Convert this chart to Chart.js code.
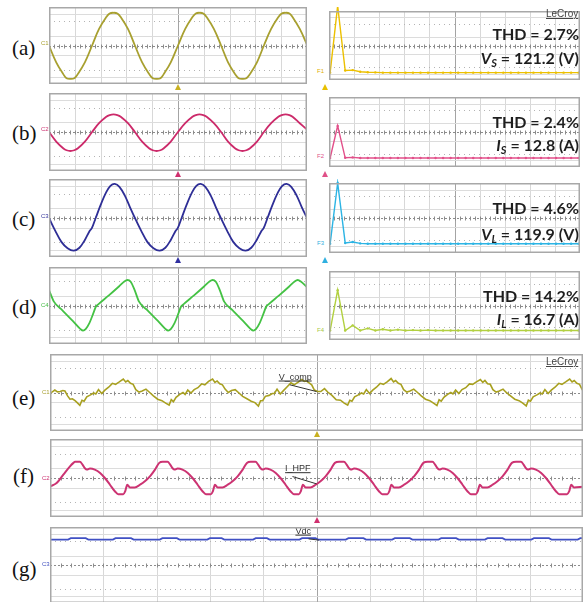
<!DOCTYPE html>
<html>
<head>
<meta charset="utf-8">
<script src="https://cdn.jsdelivr.net/npm/chart.js@4.4.1/dist/chart.umd.min.js"></script>
<style>
  body { margin: 0; background: #fff; }
  #page { position: relative; width: 584px; height: 602px; overflow: hidden; background: #fff; }
  .panel { position: absolute; }
  .panel canvas { display: block; }
  .tag { position: absolute; font-family: "Liberation Serif", serif; font-size: 21px; color: #111; line-height: 22px; }
  .thd { position: absolute; right: 5px; font-family: Lato, "Open Sans", sans-serif; font-weight: 700; font-size: 16px; color: #1e1e1e; line-height: 18px; text-align: right; white-space: nowrap; }
  .thd sub { font-size: 11px; vertical-align: -3px; }
  .brand { position: absolute; font-family: "Liberation Sans", Arial, sans-serif; font-size: 10px; color: #444; text-decoration: underline; }
  .ch { position: absolute; font-family: "Liberation Sans", Arial, sans-serif; font-size: 6px; line-height: 6px; }
  .trig { position: absolute; width: 0; height: 0; border-left: 3.5px solid transparent; border-right: 3.5px solid transparent; border-bottom: 6px solid #000; }
</style>
</head>
<body>
<div id="page">
  <div class="panel" style="left:49px;top:7px;width:258px;height:77px"><canvas id="scopeA"></canvas></div>
  <div class="panel" style="left:49px;top:93px;width:258px;height:78px"><canvas id="scopeB"></canvas></div>
  <div class="panel" style="left:49px;top:179px;width:258px;height:78px"><canvas id="scopeC"></canvas></div>
  <div class="panel" style="left:49px;top:267px;width:258px;height:77px"><canvas id="scopeD"></canvas></div>
  <div class="panel" style="left:325px;top:7px;width:259px;height:77px"><canvas id="fftA"></canvas></div>
  <div class="panel" style="left:325px;top:93px;width:259px;height:78px"><canvas id="fftB"></canvas></div>
  <div class="panel" style="left:325px;top:179px;width:259px;height:78px"><canvas id="fftC"></canvas></div>
  <div class="panel" style="left:325px;top:267px;width:259px;height:77px"><canvas id="fftD"></canvas></div>
  <div class="panel" style="left:50px;top:354px;width:533px;height:77px"><canvas id="scopeE"></canvas></div>
  <div class="panel" style="left:50px;top:439px;width:533px;height:78px"><canvas id="scopeF"></canvas></div>
  <div class="panel" style="left:50px;top:527px;width:533px;height:76px"><canvas id="scopeG"></canvas></div>

  <div class="tag" style="left:12px;top:37px">(a)</div>
  <div class="tag" style="left:12px;top:122px">(b)</div>
  <div class="tag" style="left:12px;top:208px">(c)</div>
  <div class="tag" style="left:12px;top:296px">(d)</div>
  <div class="tag" style="left:12px;top:387px">(e)</div>
  <div class="tag" style="left:13px;top:465px">(f)</div>
  <div class="tag" style="left:12px;top:558px">(g)</div>

  <div class="brand" style="left:546px;top:8px">LeCroy</div>
  <div class="brand" style="left:546px;top:356px">LeCroy</div>

  <div class="thd" style="top:25px">THD = 2.7%</div>
  <div class="thd" style="top:49px"><i>V</i><sub><i>S</i></sub> = 121.2 (V)</div>
  <div class="thd" style="top:113px">THD = 2.4%</div>
  <div class="thd" style="top:136px"><i>I</i><sub><i>S</i></sub> = 12.8 (A)</div>
  <div class="thd" style="top:199px">THD = 4.6%</div>
  <div class="thd" style="top:225px"><i>V</i><sub><i>L</i></sub> = 119.9 (V)</div>
  <div class="thd" style="top:287px">THD = 14.2%</div>
  <div class="thd" style="top:310px"><i>I</i><sub><i>L</i></sub> = 16.7 (A)</div>

  <div class="ch" style="left:41px;top:40px;color:#a8a030">C1</div>
  <div class="ch" style="left:41px;top:126px;color:#cc3070">C2</div>
  <div class="ch" style="left:41px;top:213px;color:#33339a">C3</div>
  <div class="ch" style="left:41px;top:302px;color:#44bb44">C4</div>
  <div class="ch" style="left:317px;top:68px;color:#e0b000">F1</div>
  <div class="ch" style="left:317px;top:153px;color:#e05088">F2</div>
  <div class="ch" style="left:317px;top:240px;color:#30b0e0">F3</div>
  <div class="ch" style="left:317px;top:327px;color:#a8c840">F4</div>
  <div class="ch" style="left:42px;top:389px;color:#a8a030">C1</div>
  <div class="ch" style="left:42px;top:475px;color:#cc3070">C2</div>
  <div class="ch" style="left:42px;top:561px;color:#4050c0">C3</div>

  <div class="trig" style="left:175px;top:84px;border-bottom-color:#c8b020"></div>
  <div class="trig" style="left:322px;top:84px;border-bottom-color:#e8c000"></div>
  <div class="trig" style="left:175px;top:171px;border-bottom-color:#d0306f"></div>
  <div class="trig" style="left:322px;top:171px;border-bottom-color:#e05088"></div>
  <div class="trig" style="left:175px;top:257px;border-bottom-color:#3030a0"></div>
  <div class="trig" style="left:322px;top:257px;border-bottom-color:#30b0e0"></div>
  <div class="trig" style="left:314px;top:431px;border-bottom-color:#c8b020"></div>
  <div class="trig" style="left:314px;top:517px;border-bottom-color:#d0306f"></div>
</div>

<script>
// time axis in screen divisions (10 across), amplitude in divisions (8 high)
const sineTime = [0.00, 0.28, 0.56, 0.68, 0.83, 0.98, 1.11, 1.39, 1.67, 1.94, 2.22, 2.35, 2.50, 2.65, 2.78, 3.06,
  3.33, 3.61, 3.89, 4.02, 4.17, 4.32, 4.44, 4.72, 5.00, 5.28, 5.56, 5.69, 5.83, 5.98, 6.11, 6.39,
  6.67, 6.94, 7.22, 7.35, 7.50, 7.65, 7.78, 8.06, 8.33, 8.61, 8.89, 9.02, 9.17, 9.32, 9.44, 9.72, 10.0];
const sourceVolt = [0, -1.75, -3.0, -3.4, -3.47, -3.4, -3.0, -1.75, 0, 1.72, 2.95, 3.33, 3.4, 3.33, 2.95, 1.72,
  0, -1.75, -3.0, -3.4, -3.47, -3.4, -3.0, -1.75, 0, 1.72, 2.95, 3.33, 3.4, 3.33, 2.95, 1.72,
  0, -1.75, -3.0, -3.4, -3.47, -3.4, -3.0, -1.75, 0, 1.72, 2.95, 3.33, 3.4, 3.33, 2.95, 1.72, 0.1];
const sourceCurrent = [0, -0.98, -1.69, -1.87, -1.95, -1.87, -1.69, -0.98, 0, 0.9, 1.56, 1.73, 1.8, 1.73, 1.56, 0.9,
  0, -0.98, -1.69, -1.87, -1.95, -1.87, -1.69, -0.98, 0, 0.9, 1.56, 1.73, 1.8, 1.73, 1.56, 0.9,
  0, -0.98, -1.69, -1.87, -1.95, -1.87, -1.69, -0.98, 0, 0.9, 1.56, 1.73, 1.8, 1.73, 1.56, 0.9, 0.25];

const loadVoltTime = [0.00, 0.24, 0.48, 0.72, 0.96, 1.18, 1.38, 1.58, 1.66, 1.81, 2.01, 2.21, 2.38, 2.55, 2.73, 2.94, 3.14,
  3.33, 3.57, 3.81, 4.05, 4.29, 4.51, 4.71, 4.91, 4.99, 5.14, 5.34, 5.54, 5.71, 5.88, 6.06, 6.27, 6.47,
  6.66, 6.90, 7.14, 7.38, 7.62, 7.84, 8.04, 8.24, 8.32, 8.47, 8.67, 8.87, 9.04, 9.21, 9.39, 9.60, 9.80, 10.0];
const loadVolt = [0.0, -1.3, -2.45, -3.1, -3.35, -3.05, -2.3, -1.3, -1.05, 0.0, 1.4, 2.6, 3.3, 3.5, 3.2, 2.3, 1.1,
  0.0, -1.3, -2.45, -3.1, -3.35, -3.05, -2.3, -1.3, -1.05, 0.0, 1.4, 2.6, 3.3, 3.5, 3.2, 2.3, 1.1,
  0.0, -1.3, -2.45, -3.1, -3.35, -3.05, -2.3, -1.3, -1.05, 0.0, 1.4, 2.6, 3.3, 3.5, 3.2, 2.3, 1.1, 0.0];

const loadCurTime = [0.00, 0.19, 0.52, 0.92, 1.22, 1.32, 1.42, 1.57, 1.72, 1.82, 1.92, 2.32, 2.72, 2.92, 3.04, 3.16, 3.32,
  3.49, 3.82, 4.22, 4.52, 4.62, 4.72, 4.87, 5.02, 5.12, 5.22, 5.62, 6.02, 6.22, 6.34, 6.46, 6.62,
  6.79, 7.12, 7.52, 7.82, 7.92, 8.02, 8.17, 8.32, 8.42, 8.52, 8.92, 9.32, 9.52, 9.64, 9.76, 10.0];
const loadCurrent = [1.6, 0.4, -0.5, -1.6, -2.45, -2.6, -2.45, -1.8, -0.8, -0.1, 0.15, 1.05, 2.0, 2.5, 2.65, 2.5, 1.6,
  0.4, -0.5, -1.6, -2.45, -2.6, -2.45, -1.8, -0.8, -0.1, 0.15, 1.05, 2.0, 2.5, 2.65, 2.5, 1.6,
  0.4, -0.5, -1.6, -2.45, -2.6, -2.45, -1.8, -0.8, -0.1, 0.15, 1.05, 2.0, 2.5, 2.65, 2.5, 1.9];

// harmonic spectra, one value per harmonic order 0..33
const harmonicOrder = [0, 1, 2, 3, 4, 5, 6, 7, 8, 9, 10, 11, 12, 13, 14, 15, 16, 17, 18, 19, 20, 21, 22, 23, 24, 25, 26, 27, 28, 29, 30, 31, 32, 33];
const fftSourceVolt = [-3.15, 4.6, -2.9, -2.85, -3.05, -3.1, -3.12, -3.15, -3.15, -3.15, -3.15, -3.15, -3.15, -3.15, -3.15, -3.15, -3.15,
  -3.15, -3.15, -3.15, -3.15, -3.15, -3.15, -3.15, -3.15, -3.15, -3.15, -3.15, -3.15, -3.15, -3.15, -3.15, -3.15, -3.15];
const fftSourceCurrent = [-2.97, 0.7, -2.95, -2.9, -2.97, -2.97, -2.97, -2.97, -2.97, -2.97, -2.97, -2.97, -2.97, -2.97, -2.97, -2.97, -2.97,
  -2.97, -2.97, -2.97, -2.97, -2.97, -2.97, -2.97, -2.97, -2.97, -2.97, -2.97, -2.97, -2.97, -2.97, -2.97, -2.97, -2.97];
const fftLoadVolt = [-2.95, 4.0, -2.85, -2.75, -2.9, -2.95, -2.95, -2.95, -2.95, -2.95, -2.95, -2.95, -2.95, -2.95, -2.95, -2.95, -2.95,
  -2.95, -2.95, -2.95, -2.95, -2.95, -2.95, -2.95, -2.95, -2.95, -2.95, -2.95, -2.95, -2.95, -2.95, -2.95, -2.95, -2.95];
const fftLoadCurrent = [-2.9, 1.78, -2.9, -2.3, -2.9, -2.65, -2.9, -2.75, -2.9, -2.8, -2.9, -2.85, -2.9, -2.85, -2.9, -2.9, -2.9,
  -2.9, -2.9, -2.9, -2.9, -2.9, -2.9, -2.9, -2.9, -2.9, -2.9, -2.9, -2.9, -2.9, -2.9, -2.9, -2.9, -2.9];

// compensating voltage, filtered current and dc link (slower time base)
const compTime = [0.00, 0.05, 0.09, 0.14, 0.19, 0.24, 0.28, 0.33, 0.375, 0.42, 0.47, 0.51,
  0.56, 0.60, 0.64, 0.69, 0.76, 0.82, 0.86, 0.91, 0.97, 1.03, 1.10, 1.17, 1.23, 1.30, 1.375, 1.42, 1.46, 1.51, 1.56, 1.61, 1.67, 1.73, 1.80, 1.86, 1.94, 2.02, 2.10, 2.17,
  2.235, 2.275, 2.315, 2.365, 2.435, 2.495, 2.535, 2.585, 2.645, 2.705, 2.775, 2.845, 2.905, 2.975, 3.05, 3.095, 3.135, 3.185, 3.235, 3.285, 3.345, 3.405, 3.475, 3.535, 3.615, 3.695, 3.775, 3.845,
  3.91, 3.95, 3.99, 4.04, 4.11, 4.17, 4.21, 4.26, 4.32, 4.38, 4.45, 4.52, 4.58, 4.65, 4.725, 4.77, 4.81, 4.86, 4.91, 4.96, 5.02, 5.08, 5.15, 5.21, 5.29, 5.37, 5.45, 5.52,
  5.585, 5.625, 5.665, 5.715, 5.785, 5.845, 5.885, 5.935, 5.995, 6.055, 6.125, 6.195, 6.255, 6.325, 6.40, 6.445, 6.485, 6.535, 6.585, 6.635, 6.695, 6.755, 6.825, 6.885, 6.965, 7.045, 7.125, 7.195,
  7.26, 7.30, 7.34, 7.39, 7.46, 7.52, 7.56, 7.61, 7.67, 7.73, 7.80, 7.87, 7.93, 8.00, 8.075, 8.12, 8.16, 8.21, 8.26, 8.31, 8.37, 8.43, 8.50, 8.56, 8.64, 8.72, 8.80, 8.87,
  8.935, 8.975, 9.015, 9.065, 9.135, 9.195, 9.235, 9.285, 9.345, 9.405, 9.475, 9.545, 9.605, 9.675, 9.75, 9.795, 9.835, 9.885, 9.935, 9.985, 10.0];
const compVolt = [-0.10, 0.10, 0.25, 0.05, 0.10, 0.20, 0.15, -0.35, -0.70, -0.65, -0.85, -1.05,
  -1.33, -0.80, -0.90, -0.45, -0.25, -0.05, -0.15, 0.30, -0.10, 0.25, 0.55, 0.95, 0.85, 1.10, 1.40, 1.10, 1.25, 0.95, 0.85, 0.30, 0.05, 0.15, 0.35, 0.05, -0.35, -0.70, -0.85, -1.10,
  -1.30, -0.75, -0.95, -0.50, -0.20, 0.00, -0.20, 0.25, -0.05, 0.30, 0.50, 0.90, 0.80, 1.15, 1.40, 1.05, 1.20, 0.90, 0.80, 0.35, 0.00, 0.20, 0.30, 0.00, -0.40, -0.65, -0.90, -1.05,
  -1.40, -0.85, -0.85, -0.40, -0.30, -0.10, -0.10, 0.35, -0.15, 0.20, 0.60, 1.00, 0.80, 1.05, 1.35, 1.15, 1.20, 1.00, 0.80, 0.25, 0.10, 0.10, 0.40, 0.05, -0.30, -0.75, -0.80, -1.10,
  -1.30, -0.80, -0.90, -0.45, -0.25, -0.05, -0.15, 0.30, -0.10, 0.25, 0.55, 0.95, 0.85, 1.10, 1.45, 1.10, 1.25, 0.95, 0.85, 0.30, 0.05, 0.15, 0.35, 0.05, -0.35, -0.70, -0.85, -1.10,
  -1.35, -0.75, -0.90, -0.50, -0.20, 0.00, -0.15, 0.25, -0.10, 0.30, 0.50, 0.90, 0.85, 1.10, 1.35, 1.05, 1.25, 0.90, 0.85, 0.30, 0.05, 0.15, 0.35, 0.00, -0.35, -0.70, -0.85, -1.10,
  -1.40, -0.80, -0.90, -0.45, -0.25, -0.05, -0.15, 0.30, -0.10, 0.25, 0.55, 0.95, 0.85, 1.10, 1.40, 1.10, 1.25, 0.95, 0.85, 0.30, 0.20];

const hpfTime = [0.00, 0.125, 0.25, 0.375, 0.44, 0.47,
  0.56, 0.61, 0.66, 0.69, 0.75, 0.84, 0.94, 1.03, 1.125, 1.22, 1.28, 1.375, 1.41, 1.45, 1.50, 1.59, 1.69, 1.78, 1.875, 1.97, 2.05,
  2.115, 2.205, 2.255, 2.305, 2.335, 2.395, 2.485, 2.585, 2.675, 2.77, 2.865, 2.925, 3.02, 3.055, 3.095, 3.145, 3.235, 3.335, 3.425, 3.52, 3.615, 3.695,
  3.765, 3.855, 3.905, 3.955, 3.985, 4.045, 4.135, 4.235, 4.325, 4.42, 4.515, 4.575, 4.67, 4.705, 4.745, 4.795, 4.885, 4.985, 5.075, 5.17, 5.265, 5.345,
  5.425, 5.515, 5.565, 5.615, 5.645, 5.705, 5.795, 5.895, 5.985, 6.08, 6.175, 6.235, 6.33, 6.365, 6.405, 6.455, 6.545, 6.645, 6.735, 6.83, 6.925, 7.005,
  7.085, 7.175, 7.225, 7.275, 7.305, 7.365, 7.455, 7.555, 7.645, 7.74, 7.835, 7.895, 7.99, 8.025, 8.065, 8.115, 8.205, 8.305, 8.395, 8.49, 8.585, 8.665,
  8.745, 8.835, 8.885, 8.935, 8.965, 9.025, 9.115, 9.215, 9.305, 9.40, 9.495, 9.555, 9.70, 9.74, 9.78, 9.83, 10.0];
const hpfCurrent = [-0.86, -0.52, 0.34, 1.20, 1.55, 1.66,
  1.66, 1.38, 0.97, 0.86, 0.97, 0.86, 0.52, 0.00, -0.69, -1.38, -1.66, -1.66, -1.38, -0.69, -0.97, -0.97, -0.69, -0.34, 0.17, 0.86, 1.55,
  1.66, 1.66, 1.38, 0.97, 0.86, 0.97, 0.86, 0.52, 0.00, -0.69, -1.38, -1.66, -1.66, -1.38, -0.69, -0.97, -0.97, -0.69, -0.34, 0.17, 0.86, 1.55,
  1.66, 1.66, 1.38, 0.97, 0.86, 0.97, 0.86, 0.52, 0.00, -0.69, -1.38, -1.66, -1.66, -1.38, -0.69, -0.97, -0.97, -0.69, -0.34, 0.17, 0.86, 1.55,
  1.66, 1.66, 1.38, 0.97, 0.86, 0.97, 0.86, 0.52, 0.00, -0.69, -1.38, -1.66, -1.66, -1.38, -0.69, -0.97, -0.97, -0.69, -0.34, 0.17, 0.86, 1.55,
  1.66, 1.66, 1.38, 0.97, 0.86, 0.97, 0.86, 0.52, 0.00, -0.69, -1.38, -1.66, -1.66, -1.38, -0.69, -0.97, -0.97, -0.69, -0.34, 0.17, 0.86, 1.55,
  1.66, 1.66, 1.38, 0.97, 0.86, 0.97, 0.86, 0.52, 0.00, -0.69, -1.38, -1.66, -1.66, -1.38, -0.69, -0.97, -0.90];

const dcTime = [0.00, 0.34, 0.39, 0.67, 0.72, 1.18, 1.23, 1.52, 1.57, 2.06, 2.11, 2.38, 2.43, 2.95, 3.00, 3.22, 3.27,
  3.81, 3.86, 4.07, 4.12, 4.68, 4.73, 4.98, 5.03, 5.55, 5.60, 5.88, 5.93, 6.42, 6.47, 6.75, 6.80,
  7.29, 7.34, 7.62, 7.67, 8.16, 8.21, 8.49, 8.54, 9.03, 9.08, 9.36, 9.41, 9.90, 9.95, 10.0];
const dcVolt = [2.68, 2.68, 2.82, 2.82, 2.68, 2.68, 2.82, 2.82, 2.68, 2.68, 2.82, 2.82, 2.68, 2.68, 2.82, 2.82, 2.68,
  2.68, 2.82, 2.82, 2.68, 2.68, 2.82, 2.82, 2.68, 2.68, 2.82, 2.82, 2.68, 2.68, 2.82, 2.82, 2.68,
  2.68, 2.82, 2.82, 2.68, 2.68, 2.82, 2.82, 2.68, 2.68, 2.82, 2.82, 2.68, 2.68, 2.82, 2.82];

// scope graticule: 10 x 8 divisions, dashed centre line with minor ticks
const scopeGrid = {
  id: "scopeGrid",
  beforeDatasetsDraw(chart) {
    const ctx = chart.ctx;
    const area = chart.chartArea;
    const w = area.right - area.left;
    const h = area.bottom - area.top;
    const dx = w / 10;
    const dy = h / 8;
    const rowY = (k) => Math.round(area.top + h / 2 - k * dy) + 0.5;
    ctx.save();
    ctx.lineWidth = 1;
    for (let i = 1; i < 10; i++) {
      const x = Math.round(area.left + i * dx) + 0.5;
      ctx.strokeStyle = i === 5 ? "#a4a4a4" : "#d8d8d8";
      ctx.beginPath();
      ctx.moveTo(x, area.top);
      ctx.lineTo(x, area.bottom);
      ctx.stroke();
    }
    ctx.strokeStyle = "#dcdcdc";
    [-3.25, -1, 1, 3.25].forEach((k) => {
      ctx.beginPath();
      ctx.moveTo(area.left, rowY(k));
      ctx.lineTo(area.right, rowY(k));
      ctx.stroke();
    });
    ctx.setLineDash([1, 4]);
    ctx.strokeStyle = "#b4b4b4";
    [-2.5, 2.5].forEach((k) => {
      ctx.beginPath();
      ctx.moveTo(area.left, rowY(k));
      ctx.lineTo(area.right, rowY(k));
      ctx.stroke();
    });
    ctx.setLineDash([2, 2]);
    ctx.strokeStyle = "#8c8c8c";
    const mid = rowY(0);
    ctx.beginPath();
    ctx.moveTo(area.left, mid);
    ctx.lineTo(area.right, mid);
    ctx.stroke();
    ctx.setLineDash([]);
    for (let i = 1; i < 50; i++) {
      const x = Math.round(area.left + i * dx / 5) + 0.5;
      ctx.beginPath();
      ctx.moveTo(x, mid - 2);
      ctx.lineTo(x, mid + 2);
      ctx.stroke();
    }
    ctx.restore();
  },
  afterDraw(chart) {
    const ctx = chart.ctx;
    const area = chart.chartArea;
    ctx.save();
    ctx.lineWidth = 1.5;
    ctx.strokeStyle = "#a8a8a8";
    ctx.strokeRect(area.left + 0.75, area.top + 0.75, area.right - area.left - 1.5, area.bottom - area.top - 1.5);
    ctx.restore();
  },
};

// probe label with leader line, placed in division units
const scopeNote = {
  id: "scopeNote",
  afterDatasetsDraw(chart, args, opts) {
    if (!opts || !opts.text) return;
    const ctx = chart.ctx;
    const xs = chart.scales.x;
    const ys = chart.scales.y;
    const tx = xs.getPixelForValue(opts.x);
    const ty = ys.getPixelForValue(opts.y);
    ctx.save();
    ctx.font = "9px 'Liberation Sans', Arial, sans-serif";
    ctx.fillStyle = "#333";
    ctx.textAlign = "center";
    ctx.textBaseline = "alphabetic";
    ctx.fillText(opts.text, tx, ty);
    const tw = ctx.measureText(opts.text).width;
    ctx.strokeStyle = "#333";
    ctx.lineWidth = 1;
    ctx.beginPath();
    ctx.moveTo(tx - tw / 2, ty + 1.5);
    ctx.lineTo(tx + tw / 2, ty + 1.5);
    ctx.moveTo(xs.getPixelForValue(opts.fromX), ys.getPixelForValue(opts.fromY));
    ctx.lineTo(xs.getPixelForValue(opts.toX), ys.getPixelForValue(opts.toY));
    ctx.stroke();
    ctx.restore();
  },
};

function makeScope(canvasId, times, values, color, lineOpts, note) {
  const points = times.map((t, i) => ({ x: t, y: values[i] }));
  const config = {
    type: "line",
    data: {
      datasets: [
        Object.assign(
          {
            data: points,
            borderColor: color,
            borderWidth: 1.8,
            pointRadius: 0,
            tension: 0,
            fill: false,
          },
          lineOpts
        ),
      ],
    },
    options: {
      animation: false,
      responsive: true,
      maintainAspectRatio: false,
      devicePixelRatio: 1,
      layout: { padding: 0 },
      scales: {
        x: { type: "linear", min: 0, max: 10, display: false },
        y: { min: -4, max: 4, display: false },
      },
      plugins: {
        legend: { display: false },
        tooltip: { enabled: false },
        scopeNote: note || {},
      },
    },
    plugins: [scopeGrid, scopeNote],
  };
  return new Chart(document.getElementById(canvasId), config);
}

function makeSpectrum(canvasId, magnitudes, color) {
  const points = harmonicOrder.map((h, i) => ({ x: h, y: magnitudes[i] }));
  const config = {
    type: "line",
    data: {
      datasets: [
        {
          data: points,
          borderColor: color,
          backgroundColor: color,
          borderWidth: 1.4,
          pointRadius: 1.2,
          pointBorderWidth: 0,
          tension: 0,
          clip: false,
        },
      ],
    },
    options: {
      animation: false,
      responsive: true,
      maintainAspectRatio: false,
      devicePixelRatio: 1,
      layout: { padding: 0 },
      scales: {
        x: { type: "linear", min: -0.15, max: 33.18, display: false },
        y: { min: -4, max: 4, display: false },
      },
      plugins: {
        legend: { display: false },
        tooltip: { enabled: false },
      },
    },
    plugins: [scopeGrid],
  };
  return new Chart(document.getElementById(canvasId), config);
}

makeScope("scopeA", sineTime, sourceVolt, "#a8a030", { tension: 0.4 });
makeScope("scopeB", sineTime, sourceCurrent, "#cc2a6a", { tension: 0.4 });
makeScope("scopeC", loadVoltTime, loadVolt, "#2e2e96", { tension: 0.35 });
makeScope("scopeD", loadCurTime, loadCurrent, "#44c244", { cubicInterpolationMode: "monotone" });

makeSpectrum("fftA", fftSourceVolt, "#ecc000");
makeSpectrum("fftB", fftSourceCurrent, "#e2508a");
makeSpectrum("fftC", fftLoadVolt, "#2cb4e4");
makeSpectrum("fftD", fftLoadCurrent, "#b2d040");

makeScope("scopeE", compTime, compVolt, "#a8a020", { borderWidth: 1.6 },
  { text: "V_comp", x: 4.6, y: 1.35, fromX: 4.5, fromY: 0.8, toX: 5.0, toY: 0.1 });
makeScope("scopeF", hpfTime, hpfCurrent, "#cc3372", { cubicInterpolationMode: "monotone", borderWidth: 2 },
  { text: "I_HPF", x: 4.65, y: 0.7, fromX: 4.55, fromY: 0.15, toX: 5.0, toY: -0.6 });
makeScope("scopeG", dcTime, dcVolt, "#4050c4", { borderWidth: 1.8 },
  { text: "Vdc", x: 4.75, y: 3.3, fromX: 4.85, fromY: 2.75, toX: 5.05, toY: 2.62 });
</script>
</body>
</html>
